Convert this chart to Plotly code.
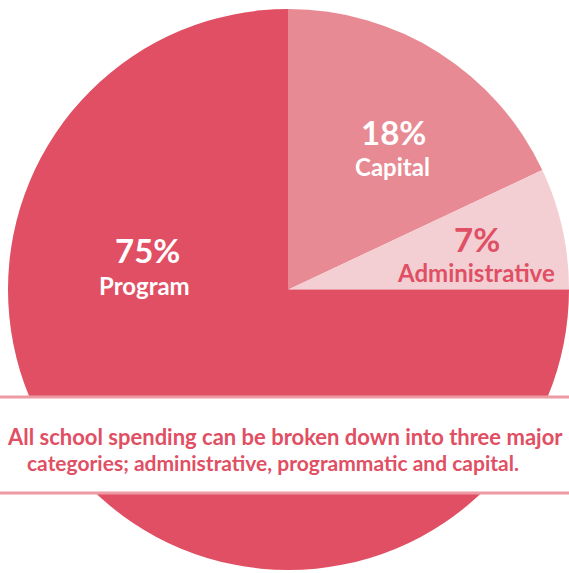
import plotly.graph_objects as go

categories = ["Capital", "Administrative", "Program"]
values = [18, 7, 75]
pct_labels = ["18%", "7%", "75%"]
colors = ["#E88A93", "#F3CED3", "#E04F63"]
label_colors = ["white", "#E04F63", "white"]
caption_lines = [
    "All school spending can be broken down into three major",
    "categories; administrative, programmatic and capital.",
]

W, H = 569, 573
FONT = "Lato"


def px(x):
    return min(max(x / W, 0.0), 1.0)


def py(y):
    return min(max(1 - y / H, 0.0), 1.0)


fig = go.Figure(go.Pie(
    labels=categories,
    values=values,
    sort=False,
    direction="clockwise",
    rotation=0,
    marker=dict(colors=colors, line=dict(width=0)),
    textinfo="none",
    hoverinfo="label+percent",
    domain=dict(x=[px(8), 1.0], y=[py(571), py(8)]),
    showlegend=False,
))

# label positions (pixel) for each slice: (pct center, name center)
label_pos = {
    "Capital": ((393, 132), (392, 166)),
    "Administrative": ((477, 239), (476, 272)),
    "Program": ((147, 250), (144, 285)),
}

annotations = []
for cat, pct, col in zip(categories, pct_labels, label_colors):
    (x1, y1), (x2, y2) = label_pos[cat]
    annotations.append(dict(x=px(x1), y=py(y1), xref="paper", yref="paper",
                            text="<b>" + pct + "</b>", showarrow=False,
                            xanchor="center", yanchor="middle",
                            font=dict(family=FONT, size=33, color=col)))
    annotations.append(dict(x=px(x2), y=py(y2), xref="paper", yref="paper",
                            text="<b>" + cat + "</b>", showarrow=False,
                            xanchor="center", yanchor="middle",
                            font=dict(family=FONT, size=24, color=col)))

# caption lines
annotations.append(dict(x=px(5), y=py(436), xref="paper", yref="paper",
                        text="<b>" + caption_lines[0] + "</b>", showarrow=False,
                        xanchor="left", yanchor="middle",
                        font=dict(family=FONT, size=22, color="#E04F63")))
annotations.append(dict(x=px(25), y=py(463), xref="paper", yref="paper",
                        text="<b>" + caption_lines[1] + "</b>", showarrow=False,
                        xanchor="left", yanchor="middle",
                        font=dict(family=FONT, size=21, color="#E04F63")))

shapes = [
    dict(type="rect", xref="paper", yref="paper", x0=-0.05, x1=1.05,
         y0=py(494), y1=py(396), fillcolor="white", line=dict(width=0), layer="above"),
    dict(type="line", xref="paper", yref="paper", x0=-0.05, x1=1.05,
         y0=py(397), y1=py(397), line=dict(color="#EE9AA2", width=3), layer="above"),
    dict(type="line", xref="paper", yref="paper", x0=-0.05, x1=1.05,
         y0=py(493), y1=py(493), line=dict(color="#EE9AA2", width=3), layer="above"),
]

fig.update_layout(
    width=W, height=H,
    margin=dict(l=0, r=0, t=0, b=0),
    paper_bgcolor="white",
    plot_bgcolor="white",
    annotations=annotations,
    shapes=shapes,
)

fig.write_html(
    "out.html",
    config={"displayModeBar": False},
    post_script="document.body.style.margin='0px';document.body.style.overflow='hidden';",
)
